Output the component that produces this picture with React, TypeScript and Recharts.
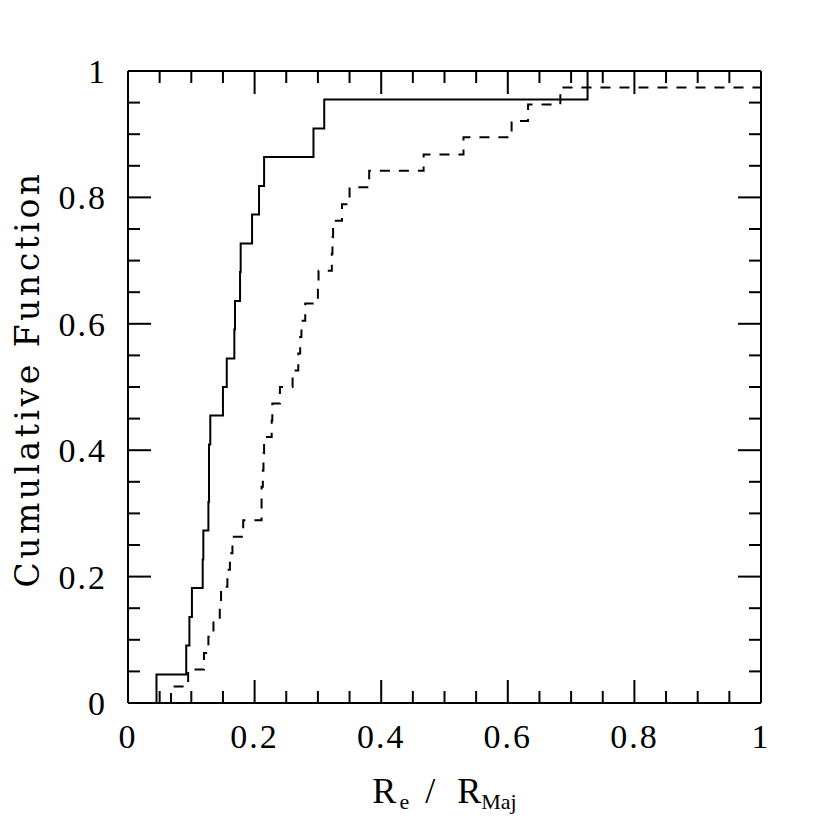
import React from 'react';
import { LineChart, Line, XAxis, YAxis } from 'recharts';

// Tick positions (every 0.05) and labelled major ticks
const tickValues = [0, 0.05, 0.1, 0.15, 0.2, 0.25, 0.3, 0.35, 0.4, 0.45, 0.5, 0.55, 0.6, 0.65, 0.7, 0.75, 0.8, 0.85, 0.9, 0.95, 1];
const majorValues = [0, 0.2, 0.4, 0.6, 0.8, 1];
const majorLabels = ['0', '0.2', '0.4', '0.6', '0.8', '1'];

// Solid sample: x of each jump, cumulative value after jump
const solidX = [0.045, 0.092, 0.097, 0.101, 0.118, 0.119, 0.127, 0.128, 0.128, 0.130, 0.150, 0.156, 0.168, 0.169, 0.177, 0.178, 0.196, 0.207, 0.215, 0.293, 0.310, 0.726];
const solidY = [0.045, 0.091, 0.136, 0.182, 0.227, 0.273, 0.318, 0.364, 0.409, 0.455, 0.5, 0.545, 0.591, 0.636, 0.682, 0.727, 0.773, 0.818, 0.864, 0.909, 0.955, 1.0];

// Dashed sample
const dashedX = [0.068, 0.095, 0.120, 0.127, 0.135, 0.145, 0.147, 0.157, 0.161, 0.165, 0.182, 0.211, 0.211, 0.213, 0.214, 0.215, 0.227, 0.228, 0.240, 0.260, 0.269, 0.272, 0.274, 0.280, 0.300, 0.301, 0.322, 0.323, 0.324, 0.338, 0.350, 0.381, 0.467, 0.530, 0.606, 0.632, 0.683];
const dashedY = [0.026, 0.053, 0.079, 0.105, 0.132, 0.158, 0.184, 0.211, 0.237, 0.263, 0.289, 0.316, 0.342, 0.368, 0.395, 0.421, 0.447, 0.474, 0.5, 0.526, 0.553, 0.579, 0.605, 0.632, 0.658, 0.684, 0.711, 0.737, 0.763, 0.789, 0.816, 0.842, 0.868, 0.895, 0.921, 0.947, 0.974];
const dashedEndX = 1.0;

function buildSteps(xs: number[], ys: number[], endX?: number) {
  const pts: { x: number; y: number }[] = [{ x: xs[0], y: 0 }];
  xs.forEach((x, i) => pts.push({ x, y: ys[i] }));
  if (endX !== undefined) pts.push({ x: endX, y: ys[ys.length - 1] });
  return pts;
}

const solidData = buildSteps(solidX, solidY);
const dashedData = buildSteps(dashedX, dashedY, dashedEndX);

const NUM_FONT = '"Liberation Serif", serif';
const FS = 34;
const MAJOR = 23;
const MINOR = 12;
const SW = 2;

const majorIndex = (v: number) => majorValues.findIndex((m) => Math.abs(m - v) < 1e-6);

const BottomTick = (props: any) => {
  const { x, y, payload } = props;
  const mi = majorIndex(payload.value);
  const len = mi >= 0 ? MAJOR : MINOR;
  return (
    <g>
      <line x1={x} y1={y} x2={x} y2={y - len} stroke="#000" strokeWidth={SW} />
      {mi >= 0 && (
        <text x={x} y={y + 45} textAnchor="middle" fontFamily={NUM_FONT} fontSize={FS} fill="#000" letterSpacing={2}>
          {majorLabels[mi]}
        </text>
      )}
    </g>
  );
};

const TopTick = (props: any) => {
  const { x, y, payload } = props;
  const mi = majorIndex(payload.value);
  const len = mi >= 0 ? MAJOR : MINOR;
  return <line x1={x} y1={y} x2={x} y2={y + len} stroke="#000" strokeWidth={SW} />;
};

const LeftTick = (props: any) => {
  const { x, y, payload } = props;
  const mi = majorIndex(payload.value);
  const len = mi >= 0 ? MAJOR : MINOR;
  return (
    <g>
      <line x1={x} y1={y} x2={x + len} y2={y} stroke="#000" strokeWidth={SW} />
      {mi >= 0 && (
        <text x={x - 21} y={y + 12} textAnchor="end" fontFamily={NUM_FONT} fontSize={FS} fill="#000" letterSpacing={2}>
          {majorLabels[mi]}
        </text>
      )}
    </g>
  );
};

const RightTick = (props: any) => {
  const { x, y, payload } = props;
  const mi = majorIndex(payload.value);
  const len = mi >= 0 ? MAJOR : MINOR;
  return <line x1={x} y1={y} x2={x - len} y2={y} stroke="#000" strokeWidth={SW} />;
};

const XTitle = (props: any) => {
  const vb = props.viewBox || { x: 120, y: 695, width: 633, height: 1 };
  const cx = vb.x + vb.width / 2;
  const base = vb.y + 100;
  return (
    <text x={cx} y={base} textAnchor="middle" fontFamily={NUM_FONT} fontSize={36} fill="#000">
      <tspan>R</tspan>
      <tspan fontSize={22} dy={6} dx={3}>e</tspan>
      <tspan dy={-6} dx={16}>/</tspan>
      <tspan dx={22}>R</tspan>
      <tspan fontSize={22} dy={6}>Maj</tspan>
    </text>
  );
};

const YTitle = (props: any) => {
  const vb = props.viewBox || { x: 119, y: 63, width: 1, height: 632 };
  const cy = vb.y + vb.height / 2 - 8;
  const bx = 31;
  return (
    <text
      x={bx}
      y={cy}
      transform={`rotate(-90, ${bx}, ${cy})`}
      textAnchor="middle"
      fontFamily='"DejaVu Serif", serif'
      fontSize={33}
      letterSpacing={3.5}
      fill="#000"
    >
      Cumulative Function
    </text>
  );
};

export default function App() {
  return (
    <LineChart width={814} height={814} margin={{ top: 62, right: 60, bottom: 118, left: 119 }}>
      <XAxis
        xAxisId="bottom"
        type="number"
        dataKey="x"
        domain={[0, 1]}
        ticks={tickValues}
        interval={0}
        height={1}
        tickSize={0}
        tickMargin={0}
        tickLine={false}
        axisLine={{ stroke: '#000', strokeWidth: SW }}
        tick={<BottomTick />}
        allowDataOverflow
        label={<XTitle />}
      />
      <XAxis
        xAxisId="top"
        orientation="top"
        type="number"
        dataKey="x"
        domain={[0, 1]}
        ticks={tickValues}
        interval={0}
        height={1}
        tickSize={0}
        tickMargin={0}
        tickLine={false}
        axisLine={{ stroke: '#000', strokeWidth: SW }}
        tick={<TopTick />}
        allowDataOverflow
      />
      <YAxis
        yAxisId="left"
        type="number"
        domain={[0, 1]}
        ticks={tickValues}
        interval={0}
        width={1}
        tickSize={0}
        tickMargin={0}
        tickLine={false}
        axisLine={{ stroke: '#000', strokeWidth: SW }}
        tick={<LeftTick />}
        allowDataOverflow
        label={<YTitle />}
      />
      <YAxis
        yAxisId="right"
        orientation="right"
        type="number"
        domain={[0, 1]}
        ticks={tickValues}
        interval={0}
        width={1}
        tickSize={0}
        tickMargin={0}
        tickLine={false}
        axisLine={{ stroke: '#000', strokeWidth: SW }}
        tick={<RightTick />}
        allowDataOverflow
      />
      <Line
        xAxisId="bottom"
        yAxisId="left"
        data={solidData}
        dataKey="y"
        type="stepAfter"
        stroke="#000"
        strokeWidth={2}
        dot={false}
        isAnimationActive={false}
      />
      <Line
        xAxisId="bottom"
        yAxisId="left"
        data={dashedData}
        dataKey="y"
        type="stepAfter"
        stroke="#000"
        strokeWidth={2}
        strokeDasharray="10 9"
        dot={false}
        isAnimationActive={false}
      />
      <Line
        xAxisId="top"
        yAxisId="right"
        data={dashedData}
        dataKey="y"
        stroke="none"
        dot={false}
        isAnimationActive={false}
      />
    </LineChart>
  );
}
